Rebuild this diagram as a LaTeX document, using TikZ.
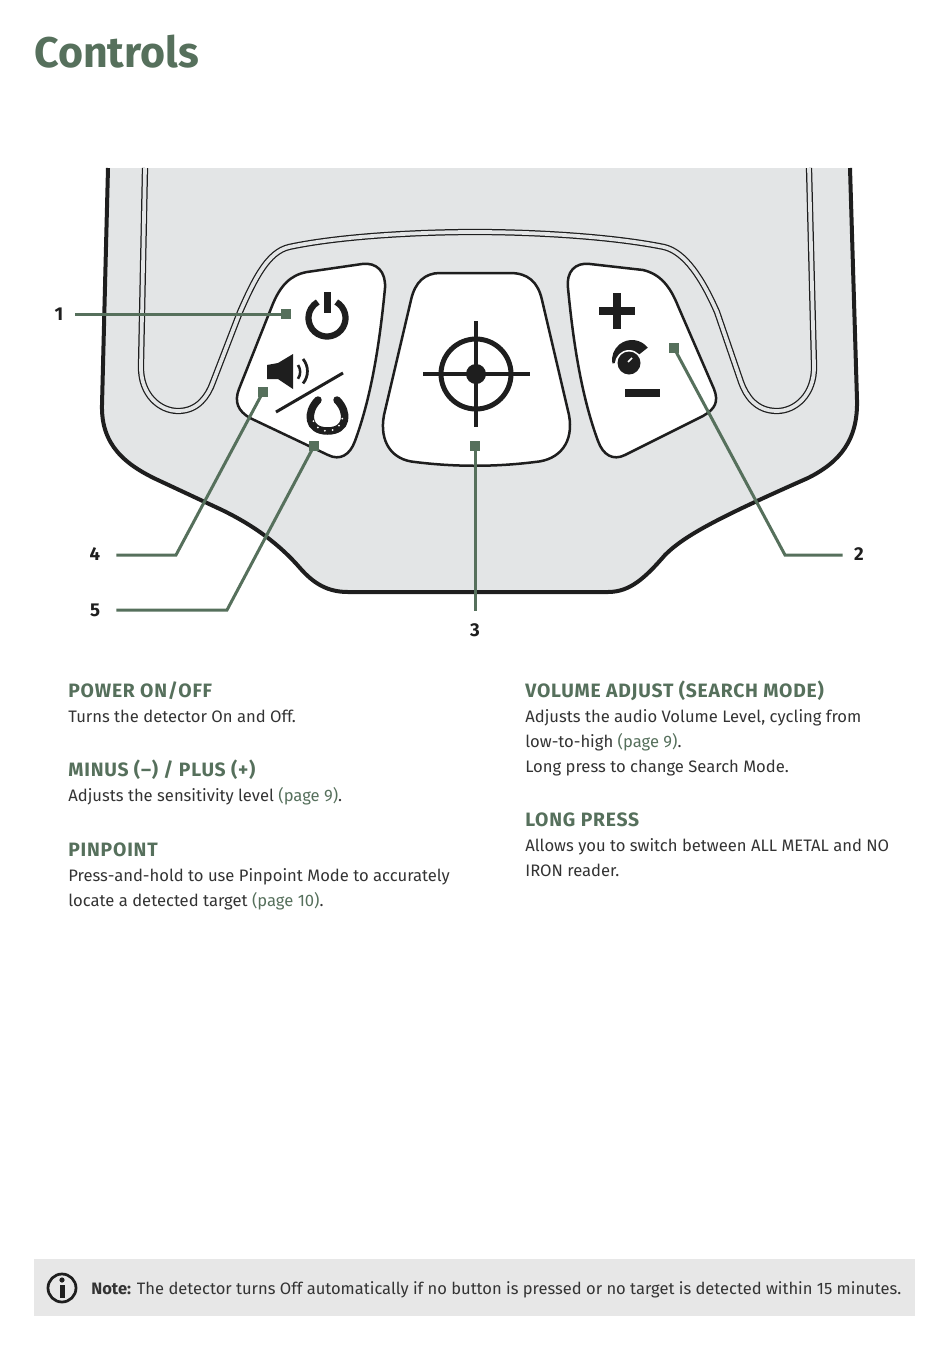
\documentclass[tikz,border=0pt]{standalone}
\usepackage{fontspec}
\setmainfont{Fira Sans}
\usetikzlibrary{positioning}
\definecolor{leaf}{HTML}{56705C}
\definecolor{panel}{HTML}{E3E5E6}
\definecolor{notebar}{HTML}{E7E7E7}
\definecolor{ink}{HTML}{1E1E1E}
\definecolor{copytext}{HTML}{333333}
\newcommand{\headfont}{\fontsize{11}{11}\selectfont\bfseries\addfontfeature{LetterSpace=4}}

\begin{document}
\begin{tikzpicture}[x=0.2mm, y=-0.2mm,
    every node/.style={inner sep=0pt},
    heading/.style={anchor=base west, font=\headfont, text=leaf},
    copy/.style={anchor=base west, font=\fontsize{9.45}{9.45}\selectfont, text=copytext},
    num/.style={font=\fontsize{10.6}{10.6}\selectfont\bfseries, text=ink, minimum size=6.4mm},
    tag/.style={fill=leaf, minimum size=2mm},
    lead/.style={draw=leaf, line width=0.6mm},
    button/.style={draw=ink, fill=white, line width=0.5mm, line join=round},
    groove/.style={draw=ink, line width=0.25mm, double=panel, double distance=0.75mm},
    glyph/.style={draw=ink, line width=0.5mm}
]
\useasboundingbox (0,0) rectangle (950,1364);
% Page title
\node[anchor=base west, font=\fontsize{24.4}{24.4}\selectfont\bfseries, text=leaf] (title) at (34,67) {Controls};

% Housing and groove
\draw[draw=ink, line width=0.8mm, fill=panel] (108,168) -- (102,405)
    .. controls (101,445) and (125,465) .. (160,481)
    -- (222,510) .. controls (255,526) and (280,545) .. (300,568)
    .. controls (314,584) and (328,592) .. (348,592)
    -- (608,592) .. controls (630,592) and (645,578) .. (665,555)
    .. controls (685,535) and (720,517) .. (808,478)
    .. controls (840,462) and (858,440) .. (857,400) -- (850,168);
\draw[groove] (145,168) -- (141,365)
    .. controls (140,395) and (160,411) .. (178,411)
    .. controls (198,411) and (208,396) .. (213,382)
    -- (240,312) .. controls (255,278) and (268,252) .. (289,247)
    .. controls (340,236) and (420,232) .. (475,232)
    .. controls (530,232) and (610,236) .. (664,247)
    .. controls (685,252) and (702,278) .. (717,312)
    -- (741,382) .. controls (746,396) and (756,411) .. (777,411)
    .. controls (795,411) and (815,395) .. (814,365) -- (809,168);

% Buttons
\draw[button] (307,272) -- (362,264) .. controls (377,262) and (386,272) .. (385,288)
    .. controls (380,340) and (372,395) .. (355,441)
    .. controls (350,455) and (340,461) .. (328,455)
    -- (250,418) .. controls (238,411) and (234,402) .. (239,389)
    -- (272,306) .. controls (280,286) and (290,275) .. (307,272) -- cycle;
\draw[button] (440,273) -- (510,273) .. controls (528,273) and (538,282) .. (542,300)
    -- (569,415) .. controls (574,442) and (560,460) .. (535,462)
    .. controls (495,467) and (455,467) .. (415,462)
    .. controls (392,460) and (379,442) .. (384,415)
    -- (411,300) .. controls (415,282) and (425,273) .. (440,273) -- cycle;
\draw[button] (643,270) -- (590,264) .. controls (575,262) and (566,272) .. (568,288)
    .. controls (573,340) and (581,395) .. (598,441)
    .. controls (603,455) and (613,461) .. (625,455)
    -- (703,416) .. controls (715,409) and (719,402) .. (714,389)
    -- (678,306) .. controls (670,286) and (660,274) .. (643,270) -- cycle;

% Power, speaker and horseshoe
\draw[draw=ink, line width=1.25mm] (327,318) ++(-60:18.5) arc (-60:240:18.5);
\fill[ink] (324,292) rectangle (331,313);
\fill[ink] (267,365) -- (278,363) -- (293,354) -- (293,389) -- (278,379) -- (267,379) -- cycle;
\draw[glyph] (298,365) arc (-35:35:12);
\draw[draw=ink, line width=0.55mm] (303,359) arc (-40:40:19);
\draw[draw=ink, line width=0.6mm] (276,412) -- (343,373);
\draw[draw=ink, line width=1.5mm, line cap=round] (318,400) .. controls (306,412) and (307,431) .. (327.5,431)
    .. controls (348,431) and (349,412) .. (337,400);
\foreach \a in {10,40,...,170}
    \fill[white] (327.5,416) ++(\a:15) circle (1);

% Crosshair
\draw[draw=ink, line width=1mm] (476,374) circle (35);
\draw[draw=ink, line width=0.8mm] (423,374) -- (530,374);
\draw[draw=ink, line width=0.8mm] (476,321) -- (476,427);
\fill[ink] (476,374) circle (10);

% Plus, knob and minus
\fill[ink] (613,293) rectangle (621,329);
\fill[ink] (599,307) rectangle (635,315);
\fill[ink] (625,389) rectangle (660,397);
\fill[ink] (632,360) -- ++(-38:20) arc (-38:-190:20) -- cycle;
\fill[white] (629,364) circle (14);
\fill[ink] (629,363) circle (11.5);
\draw[draw=white, line width=0.3mm] (628,362) -- (632,358);

% Callout tags and numbers
\node[tag] (tag1) at (286,314) {};
\node[tag] (tag2) at (674,348) {};
\node[tag] (tag3) at (475,446) {};
\node[tag] (tag4) at (263,392) {};
\node[tag] (tag5) at (314,446) {};
\node[num] (num1) at (59,314) {1};
\node[num] (num2) at (859,554) {2};
\node[num] (num3) at (475,630) {3};
\node[num] (num4) at (95,554) {4};
\node[num] (num5) at (95,610) {5};
\coordinate (bend2) at (785,555);
\coordinate (bend4) at (176,555);
\coordinate (bend5) at (227,610);

% Leader lines
\draw[lead] (num1.east) -- (tag1.center);
\draw[lead] (num2.west |- bend2) -- (bend2) -- (tag2.center);
\draw[lead, shorten >=0.5mm] (tag3.center) -- (num3.north);
\draw[lead, shorten <=1mm] (num4.east |- bend4) -- (bend4) -- (tag4.center);
\draw[lead, shorten <=1mm] (num5.east |- bend5) -- (bend5) -- (tag5.center);

% Left column
\node[heading] (power) at (68,697) {POWER ON/OFF};
\node[copy] (powertext) at (68,722) {Turns the detector On and Off.};
\node[heading] (minus) at (68,776) {MINUS (–) / PLUS (+)};
\node[copy] (minustext) at (68,801) {Adjusts the sensitivity level {\color{leaf}(page 9)}.};
\node[heading] (pin) at (68,856) {PINPOINT};
\node[copy] (pintext) at (68,881) {Press-and-hold to use Pinpoint Mode to accurately};
\node[copy] (pintextb) at (68,906) {locate a detected target {\color{leaf}(page 10)}.};

% Right column
\node[heading] (vol) at (525,697) {VOLUME ADJUST (SEARCH MODE)};
\node[copy] (voltext) at (525,722) {Adjusts the audio Volume Level, cycling from};
\node[copy] (voltextb) at (525,747) {low-to-high {\color{leaf}(page 9)}.};
\node[copy] (voltextc) at (525,772) {Long press to change Search Mode.};
\node[heading] (long) at (525,826) {LONG PRESS};
\node[copy] (longtext) at (525,851) {Allows you to switch between ALL METAL and NO};
\node[copy] (longtextb) at (525,876) {IRON reader.};

% Note bar
\fill[notebar] (34,1259) rectangle (915,1316);
\draw[draw=ink, line width=0.55mm] (62,1288) circle (14);
\fill[ink] (62,1280) circle (2.6);
\fill[ink] (59.5,1285) rectangle (64.5,1298);
\node[anchor=base west, font=\fontsize{9.4}{9.4}\selectfont, text=copytext] (note) at (91,1294) {\textbf{Note:} The detector turns Off automatically if no button is pressed or no target is detected within 15 minutes.};
\end{tikzpicture}
\end{document}
